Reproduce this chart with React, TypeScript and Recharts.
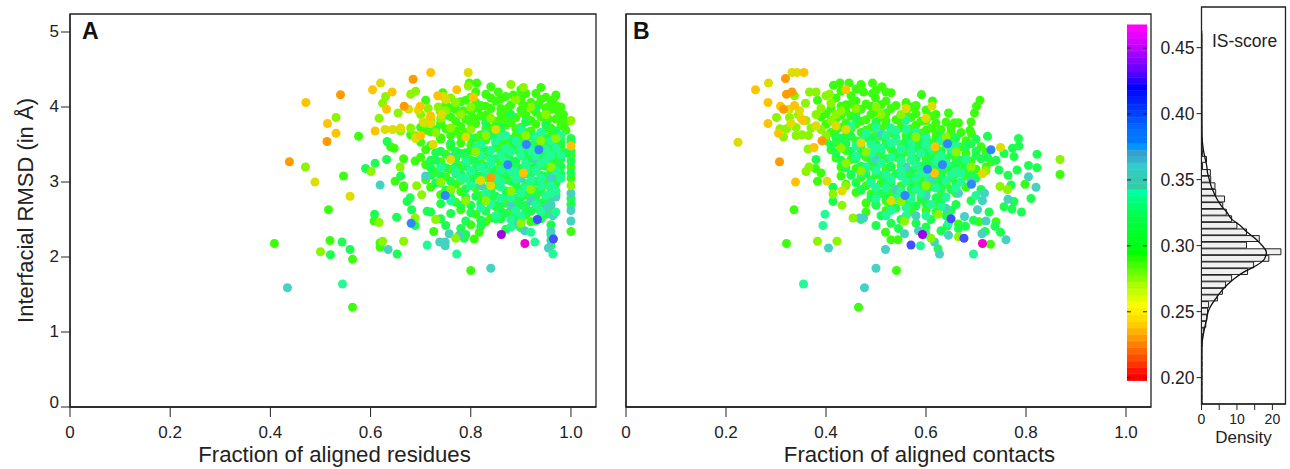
import React from "react";
import {
  ScatterChart,
  Scatter,
  XAxis,
  YAxis,
  ZAxis,
  ReferenceArea,
  ReferenceLine,
  ComposedChart,
  Bar,
  Line,
  BarChart,
  Cell,
} from "recharts";

const FONT = "'Liberation Sans', Arial, sans-serif";
const INK = "#222";

const C_ORANGE = "#ff9a00";
const C_AMBER = "#ffc400";
const C_YELLOW = "#dfdc00";
const C_LIME = "#8cf500";
const C_GREEN = "#3cff10";
const C_MINT = "#1cff50";
const C_SPRING = "#22fb95";
const C_TEAL = "#45d2c0";
const C_BLUE = "#2f86ff";
const C_INDIGO = "#4450ff";
const C_PURPLE = "#a000e8";
const C_MAGENTA = "#f000d0";

const fractionTicks = [0, 0.2, 0.4, 0.6, 0.8, 1.0];
const rmsdTicks = [0, 1, 2, 3, 4, 5];

// panel A as [fraction, rmsd], one list per colour band
const aGreen = [
  [0.516, 2.63], [0.519, 2.22], [0.408, 2.18], [0.576, 3.61], [0.546, 3.08], [0.564, 1.97], [0.564, 1.33],
  [0.71, 4.09], [0.744, 4.19], [0.64, 3.47], [0.647, 3.45], [0.666, 3.31], [0.689, 3.28], [0.649, 3.01],
  [0.666, 2.95], [0.666, 2.93], [0.619, 2.19], [0.619, 2.13], [0.607, 2.48], [0.726, 2.34], [0.807, 2.24],
  [0.817, 2.33], [0.8, 1.82], [0.797, 4.32], [0.812, 4.32], [1, 2.34], [1, 3.2], [1, 3.35], [1, 3.05],
  [0.84, 4.27], [0.9, 4.23], [0.94, 4.26], [0.8, 4.13], [0.83, 4.17], [0.87, 4.14], [0.91, 4.18], [0.95, 4.13], [0.97, 4.16],
  [0.75, 4.03], [0.78, 4.07], [0.82, 4.02], [0.85, 4.08], [0.88, 4.03], [0.92, 4.06], [0.96, 4.04], [0.98, 4.0],
  [0.74, 3.93], [0.77, 3.97], [0.8, 3.94], [0.84, 3.98], [0.87, 3.92], [0.9, 3.96], [0.93, 3.93], [0.96, 3.97], [0.985, 3.9],
  [0.72, 3.83], [0.76, 3.87], [0.79, 3.84], [0.82, 3.88], [0.86, 3.83], [0.89, 3.86], [0.92, 3.82], [0.94, 3.87], [0.97, 3.84], [0.99, 3.8],
  [0.7, 3.73], [0.74, 3.77], [0.78, 3.74], [0.81, 3.78], [0.84, 3.72], [0.87, 3.76], [0.9, 3.73], [0.93, 3.77], [0.96, 3.72], [0.98, 3.75],
  [0.68, 3.63], [0.72, 3.67], [0.76, 3.62], [0.79, 3.66], [0.82, 3.63], [0.86, 3.67], [0.89, 3.62], [0.91, 3.66], [0.94, 3.62], [0.97, 3.65],
  [0.7, 3.53], [0.74, 3.57], [0.78, 3.52], [0.83, 3.56], [0.87, 3.53], [0.9, 3.57], [0.94, 3.52], [0.97, 3.55],
  [0.71, 3.43], [0.76, 3.47], [0.8, 3.42], [0.85, 3.46], [0.89, 3.43], [0.92, 3.47], [0.95, 3.42], [0.98, 3.45],
  [0.7, 3.33], [0.75, 3.37], [0.79, 3.32], [0.83, 3.36], [0.87, 3.33], [0.9, 3.37], [0.94, 3.32], [0.97, 3.36],
  [0.71, 3.23], [0.74, 3.27], [0.78, 3.22], [0.82, 3.26], [0.86, 3.23], [0.91, 3.27], [0.94, 3.22], [0.97, 3.26],
  [0.73, 3.13], [0.76, 3.17], [0.8, 3.12], [0.85, 3.16], [0.88, 3.13], [0.93, 3.17], [0.96, 3.12],
  [0.71, 3.03], [0.75, 3.07], [0.78, 3.02], [0.83, 3.06], [0.87, 3.03], [0.9, 3.07], [0.95, 3.02], [0.97, 3.06],
  [0.72, 2.93], [0.77, 2.97], [0.81, 2.92], [0.85, 2.96], [0.92, 2.93], [0.95, 2.97],
  [0.74, 2.83], [0.78, 2.87], [0.82, 2.82], [0.88, 2.86], [0.91, 2.83], [0.94, 2.87], [0.97, 2.83],
  [0.77, 2.73], [0.84, 2.77], [0.87, 2.72], [0.92, 2.76], [0.95, 2.72],
  [0.78, 2.63], [0.85, 2.67], [0.88, 2.62], [0.93, 2.66], [0.96, 2.63],
  [0.81, 2.57], [0.84, 2.52], [0.91, 2.56], [0.8, 2.43], [0.83, 2.47], [0.89, 2.44], [0.92, 2.47],
  [0.79, 4.09], [0.86, 4.11], [0.9, 4.08], [0.94, 4.1], [0.76, 3.99], [0.83, 4.01], [0.86, 3.98], [0.91, 4.01], [0.95, 3.99], [0.97, 4.02],
  [0.75, 3.89], [0.78, 3.91], [0.83, 3.89], [0.86, 3.91], [0.91, 3.89], [0.95, 3.91], [0.98, 3.88],
  [0.74, 3.79], [0.77, 3.81], [0.8, 3.79], [0.85, 3.81], [0.88, 3.79], [0.91, 3.81], [0.95, 3.79], [0.98, 3.81],
  [0.71, 3.69], [0.75, 3.71], [0.77, 3.68], [0.83, 3.71], [0.85, 3.69], [0.89, 3.71], [0.92, 3.68], [0.95, 3.71], [0.99, 3.69],
  [0.74, 3.59], [0.78, 3.61], [0.81, 3.59], [0.85, 3.61], [0.87, 3.59], [0.9, 3.62], [0.93, 3.58], [0.96, 3.61], [0.98, 3.59],
  [0.72, 3.49], [0.76, 3.51], [0.8, 3.49], [0.82, 3.51], [0.86, 3.49], [0.88, 3.51], [0.92, 3.49], [0.95, 3.51],
  [0.81, 4.2], [0.855, 4.2], [0.885, 4.16], [0.93, 4.18], [0.81, 4.06], [0.84, 4.12], [0.9, 4.13], [0.935, 4.03], [0.965, 4.1],
  [0.785, 3.95], [0.815, 3.98], [0.875, 3.99], [0.925, 3.97], [0.975, 3.94], [0.805, 3.86], [0.875, 3.84], [0.905, 3.92], [0.955, 3.84],
];
const aMint = [
  [0.8, 3.58], [0.84, 3.62], [0.88, 3.57], [0.92, 3.61], [0.95, 3.58], [0.76, 3.51], [0.81, 3.47], [0.85, 3.52],
  [0.89, 3.48], [0.93, 3.51], [0.96, 3.47], [0.98, 3.52], [0.74, 3.41], [0.78, 3.38], [0.83, 3.42], [0.87, 3.38],
  [0.91, 3.41], [0.94, 3.38], [0.97, 3.42], [0.73, 3.29], [0.77, 3.31], [0.81, 3.28], [0.85, 3.31], [0.89, 3.28],
  [0.92, 3.31], [0.95, 3.28], [0.98, 3.31], [0.75, 3.19], [0.79, 3.21], [0.84, 3.18], [0.88, 3.21], [0.9, 3.18],
  [0.93, 3.21], [0.96, 3.18], [0.98, 3.21], [0.72, 3.09], [0.77, 3.11], [0.82, 3.08], [0.86, 3.11], [0.89, 3.08],
  [0.92, 3.11], [0.95, 3.08], [0.97, 3.11], [0.74, 2.99], [0.8, 3.01], [0.84, 2.98], [0.88, 3.01], [0.91, 2.98],
  [0.94, 3.01], [0.97, 2.98], [0.76, 2.89], [0.83, 2.91], [0.87, 2.88], [0.9, 2.91], [0.93, 2.88], [0.96, 2.91],
  [0.79, 2.79], [0.85, 2.81], [0.89, 2.78], [0.92, 2.81], [0.95, 2.78], [0.74, 2.71], [0.8, 2.69], [0.86, 2.72],
  [0.9, 2.69], [0.94, 2.72], [0.96, 2.68], [0.72, 2.6], [0.76, 2.58], [0.83, 2.61], [0.87, 2.58], [0.91, 2.61],
  [0.95, 2.57], [0.74, 2.51], [0.79, 2.48], [0.85, 2.51], [0.89, 2.54], [0.93, 2.48], [0.96, 2.43], [0.75, 2.42],
  [0.78, 2.38], [0.82, 2.41], [0.87, 2.37], [0.9, 2.39], [0.96, 2.3], [0.79, 2.3], [0.787, 2.25], [0.96, 2.15],
  [0.86, 3.72], [0.91, 3.8], [0.95, 3.76], [0.83, 3.79], [0.88, 3.9], [0.93, 3.98], [0.97, 3.68], [0.73, 3.7],
  [1, 3.58], [1, 3.53], [1, 3.42], [1, 3.28], [1, 3.12], [1, 2.78], [1, 2.7],
  [0.633, 3.54], [0.632, 3.3], [0.609, 3.25], [0.59, 3.18], [0.66, 3.08], [0.679, 2.79], [0.673, 2.74], [0.682, 2.63],
  [0.713, 2.61], [0.608, 2.57], [0.652, 2.53], [0.689, 2.42], [0.52, 2.03], [0.543, 2.2], [0.559, 2.1], [0.653, 2.04],
  [0.73, 3.39], [0.77, 3.41], [0.79, 3.39], [0.82, 3.41], [0.86, 3.39], [0.9, 3.42], [0.93, 3.39], [0.96, 3.41], [0.99, 3.39],
  [0.72, 3.29], [0.76, 3.31], [0.8, 3.29], [0.84, 3.31], [0.88, 3.29], [0.91, 3.31], [0.93, 3.29], [0.96, 3.31],
  [0.72, 3.19], [0.77, 3.21], [0.81, 3.19], [0.83, 3.21], [0.87, 3.19], [0.89, 3.21], [0.92, 3.19], [0.95, 3.21], [0.97, 3.19],
  [0.74, 3.09], [0.78, 3.11], [0.81, 3.09], [0.84, 3.11], [0.87, 3.09], [0.91, 3.11], [0.94, 3.09], [0.98, 3.11],
  [0.73, 2.99], [0.76, 3.01], [0.82, 2.99], [0.85, 3.01], [0.89, 2.99], [0.93, 3.01], [0.96, 2.99],
  [0.75, 2.89], [0.79, 2.91], [0.84, 2.89], [0.89, 2.91], [0.91, 2.89], [0.94, 2.91],
  [0.76, 2.79], [0.81, 2.81], [0.84, 2.79], [0.87, 2.81], [0.9, 2.79], [0.93, 2.81], [0.96, 2.79],
  [0.78, 2.69], [0.82, 2.71], [0.85, 2.69], [0.89, 2.71], [0.91, 2.69], [0.93, 2.71],
  [0.8, 2.59], [0.86, 2.61], [0.89, 2.59], [0.92, 2.61], [0.94, 2.59], [0.82, 2.49], [0.86, 2.51], [0.9, 2.49], [0.94, 2.51],
];
const aSpring = [
  [0.544, 1.64], [0.772, 2.04], [0.713, 2.16], [0.928, 2.2], [0.964, 2.04], [0.88, 2.4], [0.92, 2.33],
  [0.87, 3.45], [0.9, 3.35], [0.84, 3.3], [0.92, 3.42], [0.88, 3.15], [0.82, 3.35], [0.94, 3.25], [0.86, 3.0],
  [0.92, 3.02], [0.8, 3.15], [0.96, 3.35], [0.9, 2.85], [0.84, 2.7], [0.94, 2.6], [0.88, 2.5], [0.76, 2.75],
  [0.78, 3.05], [0.96, 2.85], [0.74, 3.2], [0.86, 3.6], [0.93, 3.6], [0.97, 3.45], [0.9, 3.7], [0.82, 3.5],
  [0.83, 3.65], [0.85, 3.55], [0.87, 3.62], [0.89, 3.55], [0.91, 3.52], [0.94, 3.66], [0.96, 3.55], [0.98, 3.62],
  [0.81, 3.44], [0.84, 3.42], [0.86, 3.35], [0.88, 3.4], [0.9, 3.46], [0.93, 3.35], [0.95, 3.44], [0.98, 3.36],
  [0.79, 3.27], [0.82, 3.2], [0.84, 3.24], [0.86, 3.16], [0.87, 3.27], [0.89, 3.13], [0.91, 3.24], [0.93, 3.15], [0.95, 3.3], [0.97, 3.15],
  [0.77, 3.14], [0.79, 3.05], [0.83, 3.13], [0.85, 3.05], [0.89, 3.04], [0.91, 3.15], [0.94, 3.05], [0.96, 2.95], [0.98, 3.05],
  [0.8, 2.95], [0.83, 2.85], [0.86, 2.93], [0.88, 2.8], [0.91, 2.92], [0.94, 2.95], [0.97, 2.88], [0.82, 2.65], [0.86, 2.78],
  [0.89, 2.62], [0.93, 2.7], [0.95, 2.82], [0.85, 2.55], [0.9, 2.55], [0.97, 2.6],
];
const aTeal = [
  [0.434, 1.59], [0.635, 2.1], [0.738, 2.2], [0.749, 2.2], [0.749, 2.15], [0.757, 2.31], [0.777, 2.29], [0.84, 1.85],
  [0.908, 2.35], [0.619, 2.96], [0.96, 2.34], [0.96, 2.22], [0.955, 2.12], [0.964, 2.55], [0.96, 2.7], [1, 2.85],
  [1, 2.62], [1, 2.48], [0.95, 2.65], [0.88, 2.68], [0.92, 2.75], [0.9, 3.05], [0.76, 3.33], [0.71, 3.08],
  [0.89, 2.45], [0.97, 2.8], [0.82, 2.95], [0.93, 3.3], [0.96, 3.05],
];
const aLime = [
  [0.47, 3.2], [0.5, 2.07], [0.531, 3.86], [0.68, 4.17], [0.69, 4.21], [0.63, 4.14], [0.624, 4.05], [0.617, 3.85],
  [0.617, 2.46], [0.659, 3.2], [0.601, 3.14], [0.702, 2.83], [0.692, 2.95], [0.689, 2.52], [0.666, 2.21], [0.624, 2.21],
  [0.715, 3.98], [0.735, 4.0], [0.655, 3.92], [1, 3.82], [1, 2.95], [0.77, 2.25], [0.795, 4.28], [0.88, 4.3], [0.905, 4.26],
  [0.72, 3.86], [0.75, 3.95], [0.78, 3.9], [0.76, 4.12], [0.77, 4.06], [0.8, 4.0], [0.7, 3.9], [0.74, 3.85], [0.71, 3.78],
  [0.68, 3.72], [0.66, 3.68], [0.69, 3.62], [0.73, 3.66], [0.76, 3.72], [0.8, 3.7], [0.84, 3.85], [0.89, 4.1], [0.92, 4.0],
  [0.83, 3.62], [0.81, 3.4], [0.74, 3.0], [0.76, 2.9], [0.79, 2.75], [0.92, 2.9], [0.9, 2.45], [0.91, 3.62],
  [0.97, 3.58], [0.94, 3.55], [0.96, 3.2], [0.88, 2.88], [0.73, 2.5], [0.83, 2.75], [0.95, 3.9],
];
const aYellow = [
  [0.489, 3.0], [0.795, 4.46], [0.62, 4.32], [0.559, 2.81], [0.676, 3.97], [0.629, 3.7], [0.644, 3.7], [0.66, 3.72],
  [0.695, 3.96], [0.705, 3.8], [0.72, 3.78], [0.75, 4.1], [0.745, 4.14], [0.742, 3.9], [0.69, 3.58], [0.85, 3.7],
  [0.76, 3.3], [0.82, 3.02], [0.84, 2.95], [0.725, 3.5], [0.79, 3.6],
];
const aAmber = [
  [0.471, 4.06], [0.514, 3.78], [0.531, 3.65], [0.604, 4.23], [0.643, 4.2], [0.72, 4.46], [0.772, 4.23], [0.734, 4.15],
  [0.632, 3.97], [0.609, 3.68], [0.699, 4.01], [0.905, 3.12], [1, 3.48], [0.805, 4.13], [0.7, 3.62], [0.72, 3.88],
];
const aOrange = [[0.513, 3.54], [0.438, 3.27], [0.54, 4.164], [0.685, 4.37], [0.667, 4.01], [0.84, 3.06]];
const aBlue = [[0.749, 2.82], [0.874, 3.23], [0.911, 3.5], [0.936, 3.43], [0.681, 2.45]];
const aIndigo = [[0.933, 2.5], [0.965, 2.24]];
const aPurple = [[0.861, 2.3]];
const aMagenta = [[0.908, 2.18]];

// panel B, same idea, against fraction of aligned contacts
const bGreen = [
  [0.336, 2.63], [0.321, 2.18], [0.541, 1.82], [0.465, 1.33], [0.868, 3.1], [0.798, 2.97], [0.729, 2.17], [0.706, 2.47],
  [0.74, 2.47], [0.665, 2.44], [0.519, 2.33], [0.53, 2.23], [0.544, 2.23], [0.591, 4.165], [0.613, 4.08], [0.645, 3.92],
  [0.708, 4.09], [0.701, 4.01], [0.697, 3.92], [0.69, 3.8], [0.688, 3.69], [0.691, 3.64], [0.657, 3.79], [0.665, 3.79],
  [0.383, 4.09], [0.383, 3.01], [0.379, 3.18], [0.39, 3.12], [0.415, 4.29], [0.428, 4.32], [0.446, 4.32], [0.47, 4.3],
  [0.493, 4.32], [0.512, 4.27], [0.475, 4.2], [0.493, 4.18], [0.499, 4.12], [0.53, 4.19],
  [0.42, 4.12], [0.45, 4.15], [0.46, 4.08], [0.52, 4.08], [0.56, 4.06], [0.58, 4.02], [0.44, 4.03], [0.48, 4.04],
  [0.41, 3.98], [0.44, 3.94], [0.47, 3.97], [0.5, 3.93], [0.53, 3.98], [0.56, 3.94], [0.6, 3.96], [0.62, 3.9],
  [0.39, 3.87], [0.42, 3.84], [0.45, 3.88], [0.48, 3.83], [0.51, 3.87], [0.54, 3.83], [0.57, 3.86], [0.6, 3.82], [0.64, 3.8],
  [0.4, 3.77], [0.43, 3.73], [0.46, 3.77], [0.49, 3.72], [0.52, 3.76], [0.55, 3.72], [0.58, 3.76], [0.61, 3.72], [0.63, 3.7], [0.67, 3.66],
  [0.41, 3.66], [0.44, 3.62], [0.47, 3.66], [0.5, 3.62], [0.53, 3.65], [0.56, 3.62], [0.59, 3.65], [0.62, 3.6], [0.65, 3.6], [0.68, 3.55],
  [0.4, 3.55], [0.42, 3.52], [0.46, 3.55], [0.49, 3.52], [0.52, 3.55], [0.55, 3.5], [0.58, 3.54], [0.61, 3.52], [0.64, 3.5], [0.67, 3.47], [0.71, 3.47],
  [0.41, 3.43], [0.44, 3.42], [0.47, 3.44], [0.5, 3.4], [0.53, 3.44], [0.56, 3.4], [0.59, 3.43], [0.62, 3.4], [0.65, 3.42], [0.68, 3.38], [0.72, 3.4],
  [0.42, 3.32], [0.45, 3.3], [0.48, 3.33], [0.51, 3.3], [0.54, 3.33], [0.57, 3.29], [0.6, 3.32], [0.63, 3.3], [0.66, 3.32], [0.69, 3.28], [0.73, 3.27],
  [0.43, 3.2], [0.46, 3.18], [0.49, 3.21], [0.52, 3.18], [0.55, 3.22], [0.58, 3.18], [0.61, 3.2], [0.64, 3.17], [0.67, 3.2], [0.7, 3.17], [0.72, 3.2],
  [0.43, 3.08], [0.47, 3.06], [0.5, 3.1], [0.53, 3.06], [0.56, 3.1], [0.59, 3.06], [0.62, 3.09], [0.65, 3.05], [0.68, 3.08],
  [0.44, 2.97], [0.48, 2.95], [0.51, 2.98], [0.55, 2.95], [0.58, 2.98], [0.61, 2.94], [0.64, 2.97], [0.68, 2.93],
  [0.46, 2.86], [0.49, 2.84], [0.53, 2.87], [0.57, 2.84], [0.6, 2.86], [0.63, 2.83], [0.66, 2.85],
  [0.48, 2.72], [0.52, 2.75], [0.56, 2.73], [0.59, 2.76], [0.62, 2.72], [0.48, 2.6], [0.52, 2.62], [0.57, 2.6], [0.6, 2.62],
  [0.43, 4.21], [0.46, 4.24], [0.5, 4.22], [0.52, 4.2], [0.43, 4.01], [0.45, 4.04], [0.49, 4.01], [0.51, 4.03], [0.54, 4.02], [0.57, 4.0],
  [0.4, 3.91], [0.43, 3.89], [0.46, 3.92], [0.49, 3.9], [0.52, 3.92], [0.55, 3.89], [0.58, 3.91], [0.61, 3.88],
  [0.41, 3.81], [0.44, 3.79], [0.47, 3.81], [0.5, 3.8], [0.52, 3.82], [0.55, 3.79], [0.59, 3.81], [0.62, 3.79], [0.65, 3.73],
  [0.42, 3.69], [0.45, 3.71], [0.48, 3.69], [0.51, 3.71], [0.54, 3.69], [0.57, 3.71], [0.6, 3.69], [0.62, 3.66], [0.65, 3.67],
];
const bMint = [
  [0.785, 3.58], [0.786, 3.48], [0.773, 3.45], [0.756, 3.38], [0.776, 3.34], [0.822, 3.37], [0.822, 3.19], [0.805, 3.22],
  [0.782, 3.16], [0.723, 3.33], [0.74, 3.29], [0.746, 3.16], [0.764, 3.09], [0.77, 2.96], [0.81, 2.78], [0.776, 2.74],
  [0.756, 2.67], [0.772, 2.64], [0.791, 2.6], [0.726, 2.6], [0.695, 2.49], [0.738, 2.41], [0.718, 2.34], [0.749, 2.33],
  [0.679, 2.41], [0.642, 2.41], [0.665, 2.38], [0.624, 2.11], [0.723, 3.61], [0.414, 2.93], [0.414, 2.74], [0.38, 3.3],
  [0.46, 3.85], [0.5, 3.78], [0.53, 3.7], [0.56, 3.55], [0.49, 3.6], [0.52, 3.5], [0.55, 3.35], [0.58, 3.45], [0.61, 3.35],
  [0.47, 3.38], [0.5, 3.25], [0.53, 3.2], [0.57, 3.15], [0.6, 3.25], [0.63, 3.15], [0.66, 3.25], [0.45, 3.1], [0.49, 3.03],
  [0.52, 3.0], [0.56, 3.03], [0.59, 2.95], [0.62, 3.02], [0.65, 2.9], [0.7, 3.05], [0.71, 2.9], [0.69, 2.75], [0.47, 2.9],
  [0.51, 2.85], [0.55, 2.82], [0.59, 2.8], [0.63, 2.75], [0.66, 2.7], [0.5, 2.7], [0.54, 2.65], [0.58, 2.68], [0.62, 2.6],
  [0.65, 2.62], [0.51, 2.55], [0.55, 2.5], [0.58, 2.45], [0.61, 2.5], [0.64, 2.55], [0.5, 2.42], [0.53, 2.45], [0.47, 2.5],
  [0.545, 2.38], [0.6, 2.4], [0.63, 2.35], [0.59, 3.58], [0.62, 3.47], [0.65, 3.37], [0.68, 3.47], [0.7, 3.35], [0.43, 3.58],
  [0.42, 3.59], [0.45, 3.61], [0.48, 3.59], [0.51, 3.61], [0.54, 3.59], [0.57, 3.61], [0.6, 3.59], [0.63, 3.61], [0.66, 3.59], [0.7, 3.57],
  [0.41, 3.49], [0.44, 3.51], [0.47, 3.49], [0.5, 3.51], [0.53, 3.49], [0.56, 3.51], [0.59, 3.49], [0.62, 3.51], [0.65, 3.49], [0.69, 3.51],
  [0.42, 3.39], [0.45, 3.41], [0.48, 3.39], [0.51, 3.41], [0.54, 3.39], [0.57, 3.41], [0.6, 3.39], [0.63, 3.41], [0.66, 3.39], [0.7, 3.41],
  [0.43, 3.29], [0.46, 3.31], [0.49, 3.29], [0.52, 3.31], [0.55, 3.29], [0.58, 3.31], [0.61, 3.29], [0.64, 3.31], [0.67, 3.29], [0.71, 3.31],
  [0.44, 3.19], [0.47, 3.21], [0.5, 3.19], [0.53, 3.21], [0.56, 3.19], [0.59, 3.21], [0.62, 3.19], [0.65, 3.21], [0.68, 3.19],
  [0.45, 3.09], [0.48, 3.11], [0.51, 3.09], [0.54, 3.11], [0.57, 3.09], [0.6, 3.11], [0.63, 3.09], [0.66, 3.11], [0.69, 3.09],
  [0.46, 2.99], [0.49, 3.01], [0.53, 2.99], [0.57, 3.01], [0.6, 2.99], [0.63, 3.01], [0.66, 2.99],
  [0.47, 2.89], [0.5, 2.91], [0.54, 2.89], [0.57, 2.91], [0.6, 2.89], [0.63, 2.91],
  [0.49, 2.79], [0.52, 2.81], [0.56, 2.79], [0.6, 2.81], [0.62, 2.79], [0.5, 2.69], [0.53, 2.71], [0.57, 2.69], [0.6, 2.71],
];
const bSpring = [
  [0.355, 1.64], [0.398, 2.57], [0.394, 2.42], [0.695, 2.04], [0.589, 2.15], [0.54, 3.55], [0.57, 3.4], [0.6, 3.5],
  [0.51, 3.45], [0.55, 3.28], [0.58, 3.22], [0.62, 3.28], [0.48, 3.2], [0.52, 3.1], [0.56, 3.0], [0.6, 3.12], [0.64, 3.02],
  [0.67, 3.12], [0.5, 2.93], [0.54, 2.78], [0.58, 2.9], [0.61, 2.7], [0.53, 3.72], [0.56, 3.82], [0.49, 3.5], [0.46, 3.48],
  [0.63, 3.55], [0.66, 3.48], [0.52, 2.55], [0.56, 2.55], [0.6, 2.3], [0.645, 2.45], [0.7, 2.82],
  [0.45, 3.75], [0.48, 3.65], [0.5, 3.72], [0.52, 3.62], [0.54, 3.68], [0.56, 3.7], [0.58, 3.66], [0.6, 3.6],
  [0.47, 3.55], [0.5, 3.45], [0.53, 3.52], [0.55, 3.44], [0.57, 3.5], [0.59, 3.38], [0.61, 3.45], [0.63, 3.35], [0.65, 3.44],
  [0.46, 3.34], [0.49, 3.38], [0.51, 3.25], [0.53, 3.33], [0.55, 3.15], [0.57, 3.3], [0.59, 3.12], [0.61, 3.15], [0.64, 3.25], [0.66, 3.14], [0.68, 3.3],
  [0.47, 3.12], [0.5, 3.15], [0.53, 3.03], [0.55, 3.08], [0.58, 3.05], [0.6, 2.98], [0.62, 2.92], [0.65, 3.1], [0.67, 3.0],
  [0.49, 2.98], [0.52, 2.92], [0.55, 2.88], [0.57, 2.78], [0.59, 2.85], [0.64, 2.8], [0.66, 2.92], [0.5, 2.78], [0.53, 2.62],
  [0.56, 2.66], [0.6, 2.55], [0.63, 2.67],
];
const bTeal = [
  [0.477, 1.59], [0.5, 1.85], [0.405, 2.12], [0.467, 2.52], [0.475, 2.52], [0.805, 3.07], [0.82, 2.93], [0.764, 2.77],
  [0.717, 2.85], [0.713, 2.75], [0.703, 2.63], [0.72, 2.48], [0.712, 2.31], [0.76, 2.23], [0.677, 2.54], [0.645, 2.29],
  [0.617, 2.2], [0.627, 2.04], [0.519, 2.1], [0.557, 2.31], [0.585, 2.35], [0.6, 2.82], [0.64, 2.65], [0.665, 2.85],
  [0.69, 3.0], [0.51, 3.65], [0.5, 3.3], [0.56, 3.2], [0.61, 3.05], [0.54, 2.9], [0.58, 2.55],
];
const bLime = [
  [0.868, 3.3], [0.748, 2.94], [0.763, 2.9], [0.665, 2.27], [0.61, 2.25], [0.55, 2.74], [0.557, 2.48], [0.624, 2.57],
  [0.366, 3.2], [0.36, 3.14], [0.364, 3.44], [0.414, 2.84], [0.432, 2.69], [0.454, 2.52], [0.383, 2.21], [0.422, 2.21],
  [0.301, 3.86], [0.327, 3.86], [0.337, 4.15], [0.367, 4.2], [0.38, 4.2], [0.359, 4.05], [0.407, 4.17], [0.4, 4.15],
  [0.308, 3.71], [0.321, 3.71], [0.34, 3.73], [0.315, 3.6], [0.34, 3.62], [0.352, 3.63], [0.36, 3.82], [0.38, 3.9],
  [0.345, 3.9], [0.37, 3.72], [0.39, 3.7], [0.41, 3.82], [0.365, 3.62], [0.4, 3.62], [0.43, 3.95], [0.46, 3.98], [0.42, 3.9],
  [0.39, 3.98], [0.41, 4.05], [0.5, 4.0], [0.55, 3.9], [0.58, 3.6], [0.48, 3.4], [0.44, 3.25], [0.6, 2.95], [0.64, 3.6],
  [0.44, 2.95], [0.47, 3.15], [0.66, 3.4], [0.51, 3.9], [0.43, 3.45], [0.69, 3.2], [0.72, 3.15],
];
const bYellow = [
  [0.224, 3.53], [0.285, 4.32], [0.332, 4.46], [0.342, 4.46], [0.402, 3.01], [0.432, 2.88], [0.749, 3.46], [0.713, 3.11],
  [0.612, 4.01], [0.327, 3.97], [0.347, 3.95], [0.35, 3.85], [0.33, 3.78], [0.42, 3.75], [0.44, 3.7], [0.6, 3.85],
  [0.38, 3.75], [0.56, 3.98], [0.53, 2.75], [0.47, 3.52],
];
const bAmber = [
  [0.259, 4.23], [0.284, 4.06], [0.284, 3.78], [0.339, 3.0], [0.356, 4.46], [0.44, 4.23], [0.309, 4.01], [0.337, 4.02],
  [0.354, 3.82], [0.305, 3.65], [0.376, 3.46], [0.618, 3.47], [0.617, 3.12],
];
const bOrange = [[0.307, 3.27], [0.319, 4.38], [0.321, 4.17], [0.332, 4.2], [0.392, 3.55], [0.315, 3.97]];
const bBlue = [[0.73, 3.43], [0.633, 3.23], [0.643, 3.51], [0.603, 3.17], [0.691, 2.97], [0.558, 2.82]];
const bIndigo = [[0.65, 2.51], [0.57, 2.16], [0.676, 2.25]];
const bPurple = [[0.593, 2.3]];
const bMagenta = [[0.713, 2.18]];

// hue of each 0.005 band of the colour bar, from the bottom up
const barScores = [
  0.2, 0.205, 0.21, 0.215, 0.22, 0.225, 0.23, 0.235, 0.24, 0.245, 0.25, 0.255, 0.26, 0.265, 0.27, 0.275, 0.28, 0.285,
  0.29, 0.295, 0.3, 0.305, 0.31, 0.315, 0.32, 0.325, 0.33, 0.335, 0.34, 0.345, 0.35, 0.355, 0.36, 0.365, 0.37, 0.375,
  0.38, 0.385, 0.39, 0.395, 0.4, 0.405, 0.41, 0.415, 0.42, 0.425, 0.43, 0.435, 0.44, 0.445, 0.45, 0.455, 0.46, 0.465,
];
const barHues = [
  0, 5, 12, 18, 24, 30, 36, 42, 48, 52, 56, 62, 68, 74, 80, 88, 96, 104, 112, 120, 125, 128, 130, 133, 136, 140, 145,
  150, 158, 165, 170, 175, 180, 190, 197, 205, 212, 213, 216, 220, 225, 228, 232, 236, 240, 250, 258, 265, 272, 278,
  285, 290, 295, 300,
];
const scoreTicks = [0.2, 0.25, 0.3, 0.35, 0.4, 0.45];

// IS-score histogram bins (centres), bar heights and the density curve
const binCentres = [
  0.1801, 0.1851, 0.1901, 0.1951, 0.2001, 0.2051, 0.2101, 0.2151, 0.2201, 0.2251, 0.2301, 0.2351, 0.2401, 0.2451, 0.2501,
  0.2551, 0.2601, 0.2651, 0.2701, 0.2751, 0.2801, 0.2851, 0.2901, 0.2951, 0.3001, 0.3051, 0.3101, 0.3151, 0.3201, 0.3251,
  0.3301, 0.3351, 0.3401, 0.3451, 0.3501, 0.3551, 0.3601, 0.3651, 0.3701, 0.3751, 0.3801, 0.3851, 0.3901, 0.3951, 0.4001,
  0.4051, 0.4101, 0.4151, 0.4201, 0.4251, 0.4301, 0.4351, 0.4401, 0.4451, 0.4501, 0.4551, 0.4601,
];
const binHeights = [
  0.15, 0.15, 0.15, 0.15, 0.15, 0.15, 0.15, 0.15, 0.15, 0.2, 0.3, 0.5, 1.2, 1.5, 1.7,
  2, 4.5, 5.9, 6.8, 8.5, 13, 14.7, 19, 22.4, 12.7, 16.3, 12.7, 10, 8.5, 7,
  6, 6.5, 4, 3.8, 2.6, 2.5, 0.3, 1.4, 0.3, 0.2, 0.15, 0.1, 0.1, 0.1, 0.1,
  0.1, 0.1, 0.1, 0.1, 0.1, 0.1, 0.1, 0.1, 0.1, 0.1, 0.1, 0.1,
];
const curveDensity = [
  0.05, 0.05, 0.05, 0.05, 0.05, 0.05, 0.05, 0.05, 0.05, 0.1, 0.35, 0.7, 1.1, 1.5, 1.9,
  2.8, 4.1, 5.5, 7.2, 9.3, 12, 15.6, 17.8, 18.3, 17.1, 15.3, 12.9, 11, 8.5, 7.2,
  5.6, 4.4, 3.5, 2.7, 2.2, 1.7, 1.5, 1.1, 0.7, 0.4, 0.2, 0.12, 0.1, 0.08, 0.08,
  0.06, 0.06, 0.05, 0.05, 0.05, 0.05, 0.05, 0.05, 0.05, 0.05, 0.05, 0.05,
];
const densityTicks = [0, 5, 10, 15, 20];

const histogram = binCentres.map((score, i) => ({ score, bar: binHeights[i], curve: curveDensity[i] }));
const colourBands = barScores.map((score) => ({ score, span: 1 }));

const asPoints = (list: number[][]) => list.map(([x, y]) => ({ x, y }));

const seriesA = [
  { color: C_GREEN, list: aGreen },
  { color: C_MINT, list: aMint },
  { color: C_TEAL, list: aTeal },
  { color: C_SPRING, list: aSpring },
  { color: C_LIME, list: aLime },
  { color: C_YELLOW, list: aYellow },
  { color: C_AMBER, list: aAmber },
  { color: C_ORANGE, list: aOrange },
  { color: C_BLUE, list: aBlue },
  { color: C_INDIGO, list: aIndigo },
  { color: C_PURPLE, list: aPurple },
  { color: C_MAGENTA, list: aMagenta },
];
const seriesB = [
  { color: C_GREEN, list: bGreen },
  { color: C_MINT, list: bMint },
  { color: C_TEAL, list: bTeal },
  { color: C_SPRING, list: bSpring },
  { color: C_LIME, list: bLime },
  { color: C_YELLOW, list: bYellow },
  { color: C_AMBER, list: bAmber },
  { color: C_ORANGE, list: bOrange },
  { color: C_BLUE, list: bBlue },
  { color: C_INDIGO, list: bIndigo },
  { color: C_PURPLE, list: bPurple },
  { color: C_MAGENTA, list: bMagenta },
];

const bandColour = (h: number) => `hsl(${h}, ${h >= 160 && h <= 200 ? 60 : 100}%, 50%)`;

// the zero label sits a little above its tick in the original
const RmsdTick = ({ x, y, payload }: any) => (
  <text x={x} y={payload.value === 0 ? y - 5 : y - 1} dy={6} textAnchor="end" fontSize={17} fill={INK} fontFamily={FONT}>
    {payload.value}
  </text>
);

const Panel = ({ series, width, margin, yWidth, title, titleDx, yTitle, showY }: any) => (
  <ScatterChart width={width} height={469} margin={margin}>
    <XAxis
      type="number"
      dataKey="x"
      domain={[0, 1.05]}
      ticks={fractionTicks}
      allowDataOverflow
      height={62}
      tickSize={10}
      tickMargin={9}
      tickLine={{ stroke: INK }}
      axisLine={{ stroke: INK, strokeWidth: 1.3 }}
      tick={{ fontSize: 17, fill: INK, fontFamily: FONT }}
      tickFormatter={(v: number) => (v === 0 ? "0" : v.toFixed(1))}
      label={{ value: title, position: "insideBottom", offset: 7, dx: titleDx, fontSize: 22.2, fill: INK, fontFamily: FONT }}
    />
    <YAxis
      type="number"
      dataKey="y"
      domain={[0, 5.24]}
      ticks={rmsdTicks}
      allowDataOverflow
      width={yWidth}
      tickSize={9}
      tickLine={{ stroke: INK }}
      axisLine={{ stroke: INK, strokeWidth: 1.3 }}
      tick={showY ? <RmsdTick /> : false}
      label={
        yTitle
          ? { value: yTitle, angle: -90, position: "insideLeft", offset: 25, fontSize: 22, fill: INK, fontFamily: FONT, style: { textAnchor: "middle" } }
          : undefined
      }
    />
    <ZAxis range={[60, 60]} />
    {series.map((s: any, i: number) => (
      <Scatter key={i} data={asPoints(s.list)} fill={s.color} isAnimationActive={false} />
    ))}
    <ReferenceArea x1={0} x2={1.05} y1={0} y2={5.24} fill="none" stroke={INK} strokeWidth={1.3} />
  </ScatterChart>
);

const ColourBar = () => (
  <BarChart layout="vertical" width={20} height={469} data={colourBands} margin={{ top: 25, bottom: 88, left: 0, right: 0 }} barCategoryGap={0}>
    <XAxis type="number" hide domain={[0, 1]} />
    <YAxis type="number" dataKey="score" hide width={0} reversed domain={[0.1975, 0.4675]} />
    <Bar dataKey="span" barSize={7} isAnimationActive={false}>
      {barHues.map((h, i) => (
        <Cell key={i} fill={bandColour(h)} stroke={bandColour(h)} strokeWidth={1} />
      ))}
    </Bar>
    {scoreTicks.map((t) => (
      <ReferenceLine key={`l${t}`} segment={[{ x: 0, y: t }, { x: 0.2, y: t }]} stroke={INK} />
    ))}
    {scoreTicks.map((t) => (
      <ReferenceLine key={`r${t}`} segment={[{ x: 0.8, y: t }, { x: 1, y: t }]} stroke={INK} />
    ))}
  </BarChart>
);

const DensityPanel = () => (
  <ComposedChart layout="vertical" width={150} height={469} data={histogram} margin={{ top: 7, bottom: 0, left: 0, right: 4.5 }}>
    <XAxis
      type="number"
      domain={[0, 23.7]}
      ticks={densityTicks}
      interval={0}
      height={65}
      tickSize={6}
      tickMargin={4}
      tickLine={{ stroke: INK }}
      axisLine={{ stroke: INK }}
      tick={{ fontSize: 14, fill: INK, fontFamily: FONT }}
      tickFormatter={(v: number) => (v % 10 === 0 ? String(v) : "")}
      label={{ value: "Density", position: "insideBottom", offset: 26, fontSize: 17, fill: INK, fontFamily: FONT }}
    />
    <YAxis
      type="number"
      dataKey="score"
      domain={[0.18, 0.4808]}
      reversed
      ticks={scoreTicks}
      interval={0}
      allowDataOverflow
      width={61.5}
      tickSize={5}
      tickLine={{ stroke: INK }}
      axisLine={{ stroke: INK }}
      tick={{ fontSize: 17.5, fill: INK, fontFamily: FONT }}
      tickFormatter={(v: number) => v.toFixed(2)}
    />
    <Bar dataKey="bar" barSize={6.6} fill="#f0f0f0" stroke="#222" strokeWidth={1} isAnimationActive={false} />
    <Line dataKey="curve" type="monotone" dot={false} stroke="#111" strokeWidth={1.3} isAnimationActive={false} />
    <ReferenceArea x1={0} x2={23.7} y1={0.18} y2={0.4808} fill="none" stroke={INK} strokeWidth={1.3} />
  </ComposedChart>
);

const Letter = ({ left, children }: any) => (
  <div style={{ position: "absolute", left, top: 18, fontFamily: FONT, fontWeight: "bold", fontSize: 23, color: "#111" }}>{children}</div>
);

export default function App() {
  return (
    <div style={{ position: "absolute", left: 0, top: 0, width: 1290, height: 469, background: "#fff", overflow: "hidden" }}>
      <div style={{ position: "absolute", left: 0, top: 0 }}>
        <Panel
          series={seriesA}
          width={600}
          margin={{ top: 14, bottom: 0, left: 0, right: 4 }}
          yWidth={70}
          title="Fraction of aligned residues"
          titleDx={1.5}
          yTitle="Interfacial RMSD (in Å)"
          showY
        />
      </div>
      <div style={{ position: "absolute", left: 600, top: 0 }}>
        <Panel
          series={seriesB}
          width={560}
          margin={{ top: 14, bottom: 0, left: 0, right: 9 }}
          yWidth={26}
          title="Fraction of aligned contacts"
          titleDx={31}
        />
      </div>
      <div style={{ position: "absolute", left: 1127, top: 0 }}>
        <ColourBar />
      </div>
      <div style={{ position: "absolute", left: 1140, top: 0 }}>
        <DensityPanel />
      </div>
      <Letter left={82}>A</Letter>
      <Letter left={633}>B</Letter>
      <div style={{ position: "absolute", left: 1212, top: 31, fontFamily: FONT, fontSize: 17.5, color: INK }}>IS-score</div>
    </div>
  );
}
